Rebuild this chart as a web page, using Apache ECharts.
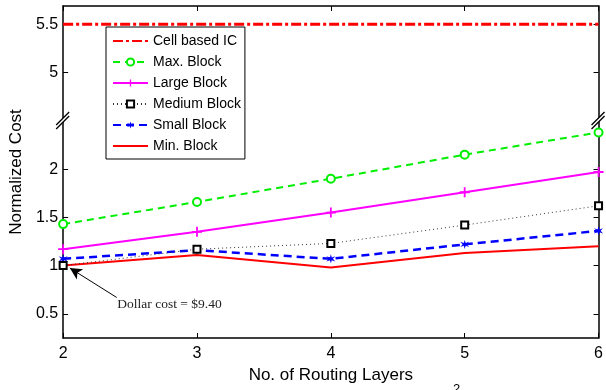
<!DOCTYPE html>
<html>
<head>
<meta charset="utf-8">
<script src="https://cdn.jsdelivr.net/npm/echarts@6/dist/echarts.min.js"></script>
<style>html,body{margin:0;padding:0;background:#fff}#c{width:606px;height:390px}</style>
</head>
<body>
<div id="c"></div>
<script>
const xValues = [2, 3, 4, 5, 6];
const cellBasedIC = [5.5, 5.5, 5.5, 5.5, 5.5];
const maxBlock = [1.43, 1.66, 1.90, 2.15, 2.38];
const largeBlock = [1.17, 1.35, 1.55, 1.76, 1.97];
const mediumBlock = [1.0, 1.17, 1.23, 1.42, 1.62];
const smallBlock = [1.07, 1.16, 1.07, 1.22, 1.36];
const minBlock = [1.0, 1.11, 0.98, 1.13, 1.20];
const yTickValues = [0.5, 1, 1.5, 2, 5, 5.5];
const seriesNames = ['Cell based IC', 'Max. Block', 'Large Block', 'Medium Block', 'Small Block', 'Min. Block'];
const annotationText = 'Dollar cost = $9.40';

// broken axis: values above the break are shifted down by BREAK_SHIFT
const BREAK_LOW = 2.52, BREAK_HIGH = 4.5, BREAK_SHIFT = 2;
const toAxis = v => (v >= BREAK_HIGH ? v - BREAK_SHIFT : v);
const fromAxis = v => (v > BREAK_LOW ? v + BREAK_SHIFT : v);
const pairs = arr => xValues.map((x, i) => [x, toAxis(arr[i])]);

const FONT = 'Liberation Sans, Arial, Helvetica, sans-serif';
const chart = echarts.init(document.getElementById('c'));

const plusPath = 'path://M4.1,0H5.9V4.1H10V5.9H5.9V10H4.1V5.9H0V4.1H4.1Z';
const starPath = 'path://M5,0L6,3.4L9.8,2.2L7.2,5L9.8,7.8L6,6.6L5,10L4,6.6L0.2,7.8L2.8,5L0.2,2.2L4,3.4Z';

const tickVals = yTickValues.map(toAxis);
const noSymbolSeries = [seriesNames[0], seriesNames[5]];

const option = {
  animation: false,
  grid: { left: 60, right: 5, top: 6, bottom: 52, containLabel: false },
  legend: {
    data: seriesNames.map(n => noSymbolSeries.includes(n)
      ? { name: n, itemStyle: { opacity: 0 } } : { name: n }),
    orient: 'vertical',
    left: 106, top: 27,
    itemWidth: 35, itemHeight: 9, itemGap: 5,
    padding: [6, 4, 5, 6],
    backgroundColor: '#fff',
    borderColor: '#000', borderWidth: 1,
    textStyle: { fontFamily: FONT, fontSize: 14, color: '#000', lineHeight: 16 },
    selectedMode: false
  },
  xAxis: [{
    type: 'value', min: 2, max: 6, interval: 1,
    name: 'No. of Routing Layers', nameLocation: 'middle', nameGap: 27,
    nameTextStyle: { fontFamily: FONT, fontSize: 17, color: '#000' },
    axisLine: { show: true, onZero: false, lineStyle: { color: '#000', width: 1.5 } },
    axisTick: { show: true, inside: true, length: 5, lineStyle: { color: '#000', width: 1 } },
    axisLabel: { fontFamily: FONT, fontSize: 16, color: '#000', margin: 8 },
    splitLine: { show: false }
  }, {
    type: 'value', min: 2, max: 6, interval: 1, position: 'top',
    axisLine: { show: true, onZero: false, lineStyle: { color: '#000', width: 1.5 } },
    axisTick: { show: true, inside: true, length: 5, lineStyle: { color: '#000', width: 1 } },
    axisLabel: { show: false }, splitLine: { show: false }
  }],
  yAxis: [{
    type: 'value', min: 0.25, max: 3.69,
    name: 'Normalized Cost', nameLocation: 'middle', nameGap: 32,
    nameTextStyle: { fontFamily: FONT, fontSize: 17, color: '#000' },
    axisLine: { show: true, onZero: false, lineStyle: { color: '#000', width: 1.5 } },
    axisTick: { show: true, inside: true, length: 5, customValues: tickVals, lineStyle: { color: '#000', width: 1 } },
    axisLabel: { fontFamily: FONT, fontSize: 16, color: '#000', margin: 5, customValues: tickVals,
      formatter: v => String(Math.round(fromAxis(v) * 100) / 100) },
    splitLine: { show: false }
  }, {
    type: 'value', min: 0.25, max: 3.69, position: 'right',
    axisLine: { show: true, onZero: false, lineStyle: { color: '#000', width: 1.5 } },
    axisTick: { show: true, inside: true, length: 5, customValues: tickVals, lineStyle: { color: '#000', width: 1 } },
    axisLabel: { show: false, customValues: tickVals }, splitLine: { show: false }
  }],
  series: [
    { name: seriesNames[0], type: 'line', data: pairs(cellBasedIC), showSymbol: false, symbol: 'none',
      itemStyle: { color: '#ff0000' }, lineStyle: { color: '#ff0000', width: 3, type: [10, 3, 3, 3] }, z: 2 },
    { name: seriesNames[1], type: 'line', data: pairs(maxBlock), symbol: 'emptyCircle', symbolSize: 8,
      itemStyle: { color: '#00ee00', borderColor: '#00ee00', borderWidth: 2 },
      lineStyle: { color: '#00ee00', width: 2, type: [7, 5] }, z: 3 },
    { name: seriesNames[2], type: 'line', data: pairs(largeBlock), symbol: plusPath, symbolSize: 10,
      itemStyle: { color: '#ff00ff' }, lineStyle: { color: '#ff00ff', width: 2 }, z: 4 },
    { name: seriesNames[4], type: 'line', data: pairs(smallBlock), symbol: starPath, symbolSize: 9,
      itemStyle: { color: '#0000ff' }, lineStyle: { color: '#0000ff', width: 2.5, type: [8, 5] }, z: 5 },
    { name: seriesNames[5], type: 'line', data: pairs(minBlock), symbol: 'none', showSymbol: false,
      itemStyle: { color: '#ff0000' }, lineStyle: { color: '#ff0000', width: 2 }, z: 6,
      markLine: {
        silent: true, symbol: ['none', 'arrow'], symbolSize: [9, 12], label: { show: false },
        lineStyle: { color: '#000', width: 1, type: 'solid' },
        data: [[{ coord: [2.40, toAxis(0.67)] }, { coord: [2.05, toAxis(0.975)] }]]
      } },
    { name: seriesNames[3], type: 'line', data: pairs(mediumBlock), symbol: 'rect', symbolSize: 7,
      itemStyle: { color: '#ffffff', borderColor: '#000', borderWidth: 2 },
      lineStyle: { color: '#333', width: 1, type: [1, 3] }, z: 7 }
  ]
};
chart.setOption(option);

function breakMark(px, py) {
  return [
    { type: 'polygon', z: 100, shape: { points: [[px - 7, py + 6], [px + 6, py - 7], [px + 6, py - 3], [px - 7, py + 10]] },
      style: { fill: '#fff', stroke: null } },
    { type: 'line', z: 101, shape: { x1: px - 7, y1: py + 6, x2: px + 6, y2: py - 7 }, style: { stroke: '#000', lineWidth: 1.3 } },
    { type: 'line', z: 101, shape: { x1: px - 7, y1: py + 10, x2: px + 6, y2: py - 3 }, style: { stroke: '#000', lineWidth: 1.3 } }
  ];
}
const pL = chart.convertToPixel({ gridIndex: 0 }, [2, BREAK_LOW]);
const pR = chart.convertToPixel({ gridIndex: 0 }, [6, BREAK_LOW]);
const pT = chart.convertToPixel({ gridIndex: 0 }, [2.405, toAxis(0.6)]);
chart.setOption({
  graphic: [
    ...breakMark(pL[0], pL[1]),
    ...breakMark(pR[0], pR[1]),
    { type: 'text', z: 100, x: pT[0], y: pT[1], style: { text: annotationText, fontFamily: 'Liberation Serif, Times New Roman, serif',
      fontSize: 13.5, fill: '#222', verticalAlign: 'middle', align: 'left' } },
    { type: 'text', z: 100, x: 453, y: 383, style: { text: '2', fontFamily: FONT, fontSize: 13, fill: '#000' } }
  ]
});
</script>
</body>
</html>
